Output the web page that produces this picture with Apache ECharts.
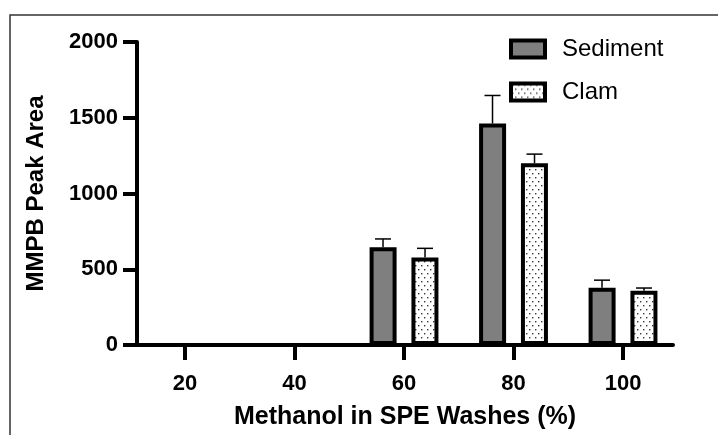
<!DOCTYPE html>
<html>
<head>
<meta charset="utf-8">
<script src="https://cdn.jsdelivr.net/npm/echarts@6/dist/echarts.min.js"></script>
<style>
  html, body { margin: 0; padding: 0; background: #fff; }
  #chart { width: 718px; height: 435px; }
</style>
</head>
<body>
<div id="chart"></div>
<script>
// Methanol percentage used in each SPE wash step
const washes = [20, 40, 60, 80, 100];
// Mean MMPB peak area per wash (null = nothing detected)
const sediment = [null, null, 645, 1462, 378];
const clam = [null, null, 578, 1200, 358];
// Standard deviation (upper error bar)
const sedimentErr = [null, null, 55, 185, 50];
const clamErr = [null, null, 60, 60, 18];
// Axis tick values
const yTicks = [0, 500, 1000, 1500, 2000];
const seriesNames = ['Sediment', 'Clam'];

const FONT = "'Liberation Sans', Arial, sans-serif";

// Stippled fill for the clam bars
function dotPattern() {
  const c = document.createElement('canvas');
  c.width = 6; c.height = 8;
  const g = c.getContext('2d');
  g.fillStyle = '#ffffff';
  g.fillRect(0, 0, 6, 8);
  g.fillStyle = '#3a3a3a';
  g.fillRect(1, 1, 1.4, 1.4);
  g.fillRect(4, 5, 1.4, 1.4);
  return c;
}

function pairs(values) {
  const out = [];
  washes.forEach((w, i) => { if (values[i] != null) out.push([w, values[i]]); });
  return out;
}
function errTriples(values, errs) {
  const out = [];
  washes.forEach((w, i) => { if (values[i] != null) out.push([w, values[i], errs[i]]); });
  return out;
}

// Upper error bar, shifted sideways to sit over its bar
function errorRenderer(dx) {
  return function (params, api) {
    const x = api.value(0), y = api.value(1), e = api.value(2);
    const base = api.coord([x, y]);
    const top = api.coord([x, y + e]);
    const cx = base[0] + dx;
    const half = 8;
    return {
      type: 'group',
      children: [
        { type: 'line', shape: { x1: cx, y1: base[1], x2: cx, y2: top[1] },
          style: { stroke: '#000', lineWidth: 1.5 } },
        { type: 'line', shape: { x1: cx - half, y1: top[1], x2: cx + half, y2: top[1] },
          style: { stroke: '#000', lineWidth: 1.5 } }
      ]
    };
  };
}

const chart = echarts.init(document.getElementById('chart'), null, { renderer: 'canvas' });
const pattern = { image: dotPattern(), repeat: 'repeat' };

chart.setOption({
  animation: false,
  backgroundColor: '#ffffff',
  grid: { left: 137, right: 45, top: 42, bottom: 85, containLabel: false },
  legend: {
    orient: 'vertical',
    left: 504,
    top: 32,
    icon: 'rect',
    itemWidth: 34,
    itemHeight: 17,
    itemGap: 19,
    data: seriesNames,
    itemStyle: { borderWidth: 4, borderColor: '#000' },
    textStyle: { fontFamily: FONT, fontSize: 24, color: '#000', padding: [0, 0, 0, 12] }
  },
  graphic: [
    { type: 'polyline', shape: { points: [[10, 435], [10, 15], [718, 15]] },
      style: { stroke: '#333', lineWidth: 1.5, fill: null }, silent: true }
  ],
  xAxis: {
    type: 'value',
    min: 11.23,
    max: 109.13,
    name: 'Methanol in SPE Washes (%)',
    nameLocation: 'middle',
    nameGap: 60,
    nameTextStyle: { fontFamily: FONT, fontSize: 25, fontWeight: 'bold', color: '#000' },
    splitLine: { show: false },
    axisLine: { show: true, onZero: false, lineStyle: { color: '#000', width: 4 } },
    axisTick: { show: true, length: 15, lineStyle: { color: '#000', width: 4 }, customValues: washes },
    axisLabel: { fontFamily: FONT, fontSize: 22, fontWeight: 'bold', color: '#000', margin: 28, customValues: washes }
  },
  yAxis: {
    type: 'value',
    min: yTicks[0],
    max: yTicks[yTicks.length - 1],
    interval: 500,
    name: 'MMPB Peak Area',
    nameLocation: 'middle',
    nameGap: 89,
    nameRotate: 90,
    nameTextStyle: { fontFamily: FONT, fontSize: 24, fontWeight: 'bold', color: '#000' },
    splitLine: { show: false },
    axisLine: { show: true, lineStyle: { color: '#000', width: 4 } },
    axisTick: { show: true, length: 14, lineStyle: { color: '#000', width: 4 } },
    axisLabel: { fontFamily: FONT, fontSize: 22, fontWeight: 'bold', color: '#000', margin: 19,
                 formatter: v => String(v) }
  },
  series: [
    {
      name: seriesNames[0],
      type: 'bar',
      barWidth: 27,
      barGap: '55%',
      z: 3,
      itemStyle: { color: '#7f7f7f', borderColor: '#000', borderWidth: 4 },
      data: pairs(sediment)
    },
    {
      name: seriesNames[1],
      type: 'bar',
      barWidth: 27,
      barGap: '55%',
      z: 3,
      itemStyle: { color: pattern, borderColor: '#000', borderWidth: 4 },
      data: pairs(clam)
    },
    {
      type: 'custom',
      z: 2,
      silent: true,
      renderItem: errorRenderer(-21),
      encode: { x: 0, y: [1, 2] },
      data: errTriples(sediment, sedimentErr)
    },
    {
      type: 'custom',
      z: 2,
      silent: true,
      renderItem: errorRenderer(21),
      encode: { x: 0, y: [1, 2] },
      data: errTriples(clam, clamErr)
    }
  ]
});
</script>
</body>
</html>
